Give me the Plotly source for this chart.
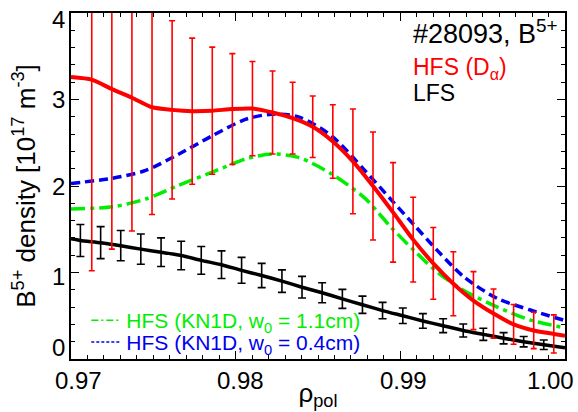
import plotly.graph_objects as go

# ---------------- data ----------------
# HFS (D_alpha) measured points with error bars
rho_hfs = [0.97126, 0.97248, 0.97370, 0.97492, 0.97614, 0.97736, 0.97858, 0.97980,
           0.98102, 0.98224, 0.98346, 0.98468, 0.98590, 0.98712, 0.98834, 0.98956,
           0.99078, 0.99200, 0.99322, 0.99444, 0.99566, 0.99688, 0.99810, 0.99932]
n_hfs = [3.23, 3.12, 3.02, 2.91, 2.88, 2.865, 2.87, 2.89,
         2.895, 2.85, 2.785, 2.685, 2.515, 2.285, 2.00, 1.695,
         1.38, 1.105, 0.87, 0.675, 0.525, 0.40, 0.33, 0.29]
err_hfs = [2.21, 1.85, 1.54, 1.24, 1.03, 0.845, 0.735, 0.64,
           0.545, 0.48, 0.415, 0.355, 0.425, 0.605, 0.625, 0.575,
           0.49, 0.415, 0.37, 0.335, 0.285, 0.23, 0.21, 0.22]
# HFS curve end values at axis limits
rho_edges = [0.970, 1.000]
n_hfs_edges = [3.26, 0.27]

# LFS measured points with error bars
rho_lfs = [0.97057, 0.97180, 0.97302, 0.97424, 0.97547, 0.97669, 0.97791, 0.97914,
           0.98036, 0.98158, 0.98281, 0.98403, 0.98525, 0.98648, 0.98770, 0.98892,
           0.99015, 0.99137, 0.99260, 0.99382, 0.99504, 0.99627, 0.99749, 0.99871]
n_lfs = [1.37, 1.345, 1.31, 1.27, 1.235, 1.196, 1.14, 1.09,
         1.025, 0.965, 0.90, 0.83, 0.766, 0.695, 0.627, 0.56,
         0.50, 0.44, 0.385, 0.33, 0.285, 0.24, 0.20, 0.165]
err_lfs = [0.185, 0.185, 0.175, 0.175, 0.165, 0.165, 0.16, 0.16,
           0.15, 0.14, 0.13, 0.125, 0.115, 0.11, 0.10, 0.095,
           0.09, 0.085, 0.08, 0.075, 0.07, 0.065, 0.06, 0.055]
n_lfs_edges = [1.39, 0.13]

# KN1D model curves
rho_kn1d = [0.97000, 0.97253, 0.97454, 0.97656, 0.97857, 0.98059, 0.98219, 0.98381,
            0.98582, 0.98784, 0.98945, 0.99086, 0.99227, 0.99388, 0.99589, 0.99790, 1.00000]
n_kn1d_w11 = [1.735, 1.76, 1.85, 2.01, 2.16, 2.31, 2.37, 2.33,
              2.14, 1.86, 1.52, 1.25, 1.00, 0.79, 0.60, 0.45, 0.36]
n_kn1d_w04 = [2.03, 2.09, 2.18, 2.37, 2.58, 2.77, 2.83, 2.80,
              2.58, 2.18, 1.84, 1.545, 1.25, 0.946, 0.70, 0.566, 0.444]

x_ticks = [0.97, 0.98, 0.99, 1.00]
x_tick_text = ["0.97", "0.98", "0.99", "1.00"]
y_ticks = [0, 1, 2, 3, 4]
y_tick_text = ["0", "1", "2", "3", "4"]

# ---------------- styles ----------------
FONT = "Liberation Sans, Arial, Helvetica, sans-serif"
RED = "#ff0000"
GREEN = "#00ee00"
BLUE = "#0000ee"
BLACK = "#000000"
x_label_shift = {0.97: 7, 0.98: 5, 0.99: 3, 1.00: -15}
y_label_shift = {0: 12, 1: -4, 2: 0, 3: 0, 4: -6}

fig = go.Figure()

# LFS line + error bars
fig.add_trace(go.Scatter(
    x=[rho_edges[0]] + rho_lfs + [rho_edges[1]],
    y=[n_lfs_edges[0]] + n_lfs + [n_lfs_edges[1]],
    mode="lines", line=dict(color=BLACK, width=3.5, shape="spline", smoothing=0.6),
    showlegend=False, hoverinfo="skip"))
fig.add_trace(go.Scatter(
    x=rho_lfs, y=n_lfs, mode="markers",
    marker=dict(size=1, color="rgba(0,0,0,0)"),
    error_y=dict(type="data", array=err_lfs, color=BLACK, thickness=1.6, width=4),
    showlegend=False, hoverinfo="skip"))

# KN1D curves
fig.add_trace(go.Scatter(
    x=rho_kn1d, y=n_kn1d_w11, mode="lines",
    line=dict(color=GREEN, width=3.5, dash="14px,5px,4px,5px", shape="spline", smoothing=0.8),
    showlegend=False, hoverinfo="skip"))
fig.add_trace(go.Scatter(
    x=rho_kn1d, y=n_kn1d_w04, mode="lines",
    line=dict(color=BLUE, width=3.5, dash="9px,5px", shape="spline", smoothing=0.8),
    showlegend=False, hoverinfo="skip"))

# HFS error bars + line
fig.add_trace(go.Scatter(
    x=rho_hfs, y=n_hfs, mode="markers",
    marker=dict(size=1, color="rgba(0,0,0,0)"),
    error_y=dict(type="data", array=err_hfs, color=RED, thickness=1.6, width=3),
    showlegend=False, hoverinfo="skip"))
fig.add_trace(go.Scatter(
    x=[rho_edges[0]] + rho_hfs + [rho_edges[1]],
    y=[n_hfs_edges[0]] + n_hfs + [n_hfs_edges[1]],
    mode="lines", line=dict(color=RED, width=4, shape="spline", smoothing=0.6),
    showlegend=False, hoverinfo="skip"))

# legend-only entries (thin samples)
fig.add_trace(go.Scatter(
    x=[None], y=[None], mode="lines", name="HFS (KN1D, w<sub>0</sub> = 1.1cm)",
    line=dict(color=GREEN, width=1.5, dash="7px,3px,2px,3px"), legend="legend"))
fig.add_trace(go.Scatter(
    x=[None], y=[None], mode="lines", name="HFS (KN1D, w<sub>0</sub> = 0.4cm)",
    line=dict(color=BLUE, width=1.5, dash="3px,2px"), legend="legend2"))

axis_common = dict(
    showline=True, linecolor=BLACK, linewidth=1.6, mirror="ticks",
    ticks="inside", tickcolor=BLACK, tickwidth=1.4, ticklen=8,
    showgrid=False, zeroline=False, showticklabels=False,
)

fig.update_xaxes(
    range=[0.97, 1.00], tickvals=x_ticks,
    minor=dict(ticks="inside", dtick=0.001, ticklen=4, tickcolor=BLACK, tickwidth=1.2, showgrid=False),
    title=dict(text="\u03c1<sub>pol</sub>", font=dict(family=FONT, size=26, color=BLACK), standoff=24),
    **axis_common)
fig.update_yaxes(
    range=[0, 4], tickvals=y_ticks,
    minor=dict(ticks="inside", dtick=0.2, ticklen=4, tickcolor=BLACK, tickwidth=1.2, showgrid=False),
    title=dict(text="B<sup>5+</sup> density [10<sup>17</sup> m<sup>-3</sup>]",
               font=dict(family=FONT, size=26, color=BLACK), standoff=26),
    **axis_common)

annotations = []
for v, t in zip(x_ticks, x_tick_text):
    annotations.append(dict(
        x=v, y=0, xref="x", yref="paper", text=t, showarrow=False,
        xanchor="center", yanchor="top", yshift=-6, xshift=x_label_shift[v],
        font=dict(family=FONT, size=24, color=BLACK)))
for v, t in zip(y_ticks, y_tick_text):
    annotations.append(dict(
        x=0, y=v, xref="paper", yref="y", text=t, showarrow=False,
        xanchor="right", yanchor="middle", xshift=-4, yshift=y_label_shift[v],
        font=dict(family=FONT, size=24, color=BLACK)))

annotations += [
    dict(x=0.689, y=0.945, xref="paper", yref="paper", xanchor="left", yanchor="middle",
         text="#28093, B<sup>5+</sup>", showarrow=False,
         font=dict(family=FONT, size=27, color=BLACK)),
    dict(x=0.689, y=0.84, xref="paper", yref="paper", xanchor="left", yanchor="middle",
         text="HFS (D<sub>\u03b1</sub>)", showarrow=False,
         font=dict(family=FONT, size=23, color=RED)),
    dict(x=0.689, y=0.768, xref="paper", yref="paper", xanchor="left", yanchor="middle",
         text="LFS", showarrow=False,
         font=dict(family=FONT, size=23, color=BLACK)),
]

fig.update_layout(
    width=578, height=412,
    margin=dict(l=71, r=11, t=12, b=49),
    paper_bgcolor="white", plot_bgcolor="white",
    font=dict(family=FONT, color=BLACK),
    annotations=annotations,
    legend=dict(x=0.031, y=0.111, xanchor="left", yanchor="middle",
                bgcolor="rgba(0,0,0,0)", borderwidth=0,
                font=dict(family=FONT, size=21, color=GREEN), itemwidth=30),
    legend2=dict(x=0.031, y=0.048, xanchor="left", yanchor="middle",
                 bgcolor="rgba(0,0,0,0)", borderwidth=0,
                 font=dict(family=FONT, size=21, color=BLUE), itemwidth=30),
)

fig.write_html("out.html")
